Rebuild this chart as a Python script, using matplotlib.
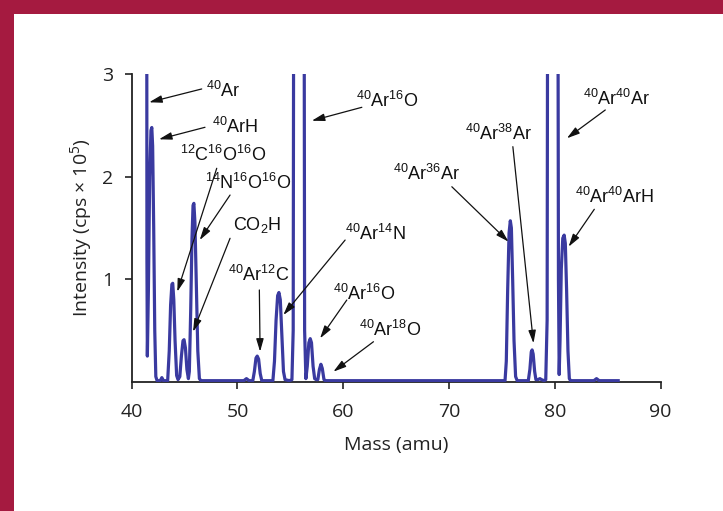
import matplotlib
matplotlib.use("Agg")
import matplotlib.pyplot as plt
from matplotlib.patches import Rectangle

plt.rcParams['mathtext.default'] = 'regular'

# ---- data: spectrum trace (mass in amu, intensity in 1e5 cps)
mass = [
    41.40, 41.44, 41.48, 41.58, 41.70, 41.82, 41.90, 41.98, 42.08, 42.18, 42.28, 42.40,
    42.70, 42.85, 43.00,
    43.40, 43.55, 43.68, 43.80, 43.88, 43.98, 44.10, 44.25, 44.38,
    44.55, 44.70, 44.85, 44.95, 45.08, 45.22, 45.36,
    45.45, 45.58, 45.70, 45.80, 45.88, 45.98, 46.10, 46.25, 46.40, 46.55,
    50.60, 50.85, 51.10,
    51.45, 51.60, 51.75, 51.87, 52.00, 52.15, 52.30,
    53.35, 53.50, 53.65, 53.80, 53.92, 54.05, 54.20, 54.35, 54.50, 54.90,
    55.15, 55.27, 55.31, 55.50, 56.10, 56.31, 56.35, 56.47,
    56.60, 56.75, 56.88, 57.00, 57.15, 57.30, 57.45,
    57.60, 57.75, 57.89, 58.02, 58.18, 58.30,
    75.30, 75.42, 75.55, 75.68, 75.80, 75.90, 76.02, 76.15, 76.30, 76.45,
    77.50, 77.65, 77.78, 77.86, 77.96, 78.10, 78.22, 78.40, 78.60, 78.75, 79.00,
    79.15, 79.28, 79.32, 79.50, 80.10, 80.31, 80.35, 80.42, 80.50, 80.62, 80.76, 80.89,
    81.00, 81.12, 81.25, 81.38, 81.50,
    83.70, 83.95, 84.20, 86.00,
]
intensity = [
    8.00, 1.20, 0.25, 0.90, 2.00, 2.45, 2.48, 2.30, 1.50, 0.50, 0.05, 0.01,
    0.01, 0.04, 0.01,
    0.01, 0.30, 0.75, 0.95, 0.96, 0.80, 0.40, 0.06, 0.02,
    0.05, 0.25, 0.40, 0.41, 0.33, 0.12, 0.03,
    0.10, 0.70, 1.40, 1.72, 1.74, 1.55, 1.00, 0.30, 0.03, 0.01,
    0.01, 0.03, 0.01,
    0.01, 0.10, 0.23, 0.25, 0.22, 0.08, 0.01,
    0.01, 0.20, 0.60, 0.84, 0.87, 0.80, 0.45, 0.10, 0.02, 0.01,
    0.02, 0.50, 3.50, 8.00, 8.00, 3.50, 0.50, 0.03,
    0.15, 0.38, 0.42, 0.38, 0.15, 0.03, 0.02,
    0.02, 0.12, 0.17, 0.13, 0.02, 0.01,
    0.01, 0.20, 0.90, 1.45, 1.57, 1.50, 1.00, 0.40, 0.05, 0.01,
    0.01, 0.12, 0.29, 0.31, 0.27, 0.10, 0.02, 0.02, 0.03, 0.02, 0.01,
    0.02, 0.60, 3.50, 8.00, 8.00, 3.50, 1.00, 0.07, 0.40, 1.10, 1.40, 1.43,
    1.35, 0.90, 0.30, 0.03, 0.01,
    0.01, 0.03, 0.01, 0.01,
]

# ---- annotation labels: text, text centre (mass, intensity), arrow start, arrow tip
labels = [
    r'$^{40}$Ar', r'$^{40}$ArH', r'$^{12}$C$^{16}$O$^{16}$O', r'$^{14}$N$^{16}$O$^{16}$O',
    r'CO$_2$H', r'$^{40}$Ar$^{12}$C', r'$^{40}$Ar$^{14}$N', r'$^{40}$Ar$^{16}$O',
    r'$^{40}$Ar$^{18}$O', r'$^{40}$Ar$^{16}$O', r'$^{40}$Ar$^{40}$Ar', r'$^{40}$Ar$^{38}$Ar',
    r'$^{40}$Ar$^{36}$Ar', r'$^{40}$Ar$^{40}$ArH',
]
label_x = [48.64, 49.77, 48.67, 50.96, 51.90, 52.04, 63.09, 61.98, 64.44, 64.20, 85.88, 74.68, 67.89, 85.63]
label_y = [2.84, 2.49, 2.21, 1.94, 1.53, 1.04, 1.44, 0.86, 0.50, 2.74, 2.755, 2.42, 2.03, 1.805]
arrow_x0 = [46.62, 46.93, 48.04, 49.30, 49.30, 52.07, 60.18, 60.34, 62.86, 61.76, 84.78, 76.04, 70.27, 83.74]
arrow_y0 = [2.856, 2.482, 2.082, 1.821, 1.399, 0.895, 1.382, 0.797, 0.390, 2.677, 2.651, 2.293, 1.902, 1.682]
arrow_x1 = [41.65, 42.58, 44.31, 46.43, 45.80, 52.14, 54.34, 57.81, 59.07, 57.03, 81.15, 77.99, 75.63, 81.31]
arrow_y1 = [2.726, 2.365, 0.878, 1.382, 0.488, 0.293, 0.651, 0.423, 0.098, 2.546, 2.375, 0.375, 1.366, 1.317]

xticks = [40, 50, 60, 70, 80, 90]
yticks = [1, 2, 3]

W, H = 723, 511
fig = plt.figure(figsize=(W / 100, H / 100), dpi=100)
fig.patch.set_facecolor('white')

crimson = '#a51a40'
fig.patches.append(Rectangle((0, (H - 14) / H), 1, 14 / H, transform=fig.transFigure,
                             facecolor=crimson, edgecolor='none', zorder=0))
fig.patches.append(Rectangle((0, 0), 14 / W, 1, transform=fig.transFigure,
                             facecolor=crimson, edgecolor='none', zorder=0))

ax = fig.add_axes([131.7 / W, (H - 381.7) / H, (660.5 - 131.7) / W, (381.7 - 74.2) / H])
ax.set_facecolor('none')
ax.plot(mass, intensity, color='#3a3aa0', lw=2.3, solid_joinstyle='round', zorder=3)

ax.set_xlim(40, 90)
ax.set_ylim(0, 3)
for s in ['top', 'right']:
    ax.spines[s].set_visible(False)
for s in ['left', 'bottom']:
    ax.spines[s].set_linewidth(1.3)
    ax.spines[s].set_color('#222222')

tick_font = dict(family=['Open Sans', 'DejaVu Sans'], size=14)
ax.set_xticks(xticks)
ax.set_yticks(yticks)
ax.set_xticklabels([str(t) for t in xticks], **tick_font, color='#222222')
ax.set_yticklabels([str(t) for t in yticks], **tick_font, color='#222222')
ax.tick_params(axis='x', direction='out', length=5, width=1.2, pad=10, color='#222222')
ax.tick_params(axis='y', direction='out', length=5, width=1.2, pad=8, color='#222222')

ax.set_xlabel('Mass (amu)', fontdict=tick_font, color='#222222', labelpad=11)
ax.set_ylabel('Intensity (cps × 10$^5$)', fontdict=tick_font, color='#222222', labelpad=6)

ann_font = dict(family=['Liberation Sans', 'DejaVu Sans'], size=13)
for t, x, y in zip(labels, label_x, label_y):
    ax.text(x, y, t, ha='center', va='center', color='#111111', zorder=4,
            clip_on=False, **ann_font)
for x0, y0, x1, y1 in zip(arrow_x0, arrow_y0, arrow_x1, arrow_y1):
    ax.annotate('', xy=(x1, y1), xytext=(x0, y0), annotation_clip=False, zorder=5,
                arrowprops=dict(arrowstyle='-|>,head_length=0.55,head_width=0.16',
                                mutation_scale=14, lw=0.9, color='#111111',
                                shrinkA=0, shrinkB=0))

fig.savefig('out.png', dpi=100, facecolor='white')
